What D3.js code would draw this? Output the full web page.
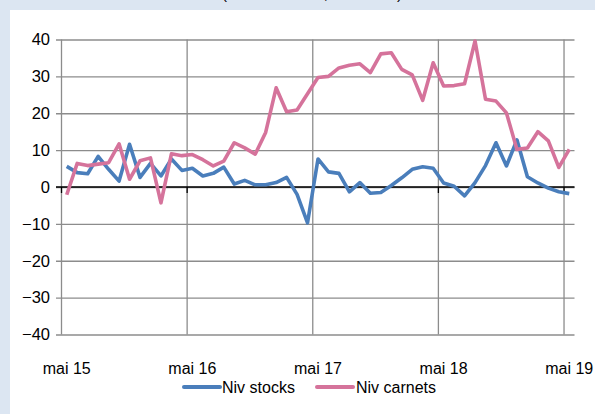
<!DOCTYPE html>
<html>
<head>
<meta charset="utf-8">
<script src="https://cdn.jsdelivr.net/npm/d3@7"></script>
<style>
  body { margin: 0; background: #dce6f2; }
  svg { display: block; }
  text { font-family: "Liberation Sans", Arial, sans-serif; fill: #000; }
</style>
</head>
<body>
<div id="chart"></div>
<script>
// monthly balances, mai 2015 -> mai 2019 (49 months)
var nivStocks = [5.6, 3.9, 3.6, 8.3, 4.8, 1.6, 11.6, 2.6, 6.4, 3.0, 7.6, 4.5,
  5.1, 3.0, 3.7, 5.4, 0.8, 1.8, 0.6, 0.6, 1.2, 2.6, -2.0, -9.7,
  7.6, 4.1, 3.7, -1.3, 1.2, -1.7, -1.5, 0.4, 2.5, 4.8, 5.5, 5.1,
  1.1, 0.2, -2.4, 1.2, 5.8, 12.0, 5.7, 12.8, 2.8, 1.1, -0.3, -1.3, -1.8];
var nivCarnets = [-2.1, 6.4, 5.8, 6.2, 6.6, 11.7, 2.1, 7.1, 7.9, -4.3, 9.0, 8.5,
  8.8, 7.4, 5.7, 7.0, 12.0, 10.6, 8.9, 14.8, 26.9, 20.4, 20.9, 25.3,
  29.7, 30.0, 32.3, 33.0, 33.4, 31.0, 36.1, 36.4, 31.9, 30.4, 23.5, 33.7,
  27.4, 27.5, 28.0, 39.6, 23.8, 23.3, 20.1, 10.2, 10.6, 15.0, 12.5, 5.3, 10.2];
var tickIdx = [0, 12, 24, 36, 48];
var tickLabels = ["mai 15", "mai 16", "mai 17", "mai 18", "mai 19"];
var yTicks = [-40, -30, -20, -10, 0, 10, 20, 30, 40];
var seriesNames = ["Niv stocks", "Niv carnets"];
var colors = ["#4a7ebb", "#d5739b"];

var W = 595, H = 414;
var margin = {top: 39.5, left: 61.5, right: 20.5, bottom: 79.5};
var width = W - margin.left - margin.right,
    height = H - margin.top - margin.bottom;

var svg = d3.select("#chart").append("svg")
    .attr("width", W).attr("height", H);

// outer panel
svg.append("rect").attr("width", W).attr("height", H).attr("fill", "#dce6f2");
svg.append("rect").attr("x", 10).attr("y", 10).attr("width", W - 10).attr("height", H - 10).attr("fill", "#fff");

// title, only its lowest part shows above the panel (as in the source)
svg.append("text").attr("x", 312).attr("y", -1).attr("text-anchor", "middle")
    .style("font-size", "15px").text("(solde mensuel, en niveau)");

var g = svg.append("g").attr("transform", "translate(" + margin.left + "," + margin.top + ")");

var x = d3.scaleBand().domain(d3.range(nivStocks.length)).range([0, width]).padding(0);
var y = d3.scaleLinear().domain([-40, 40]).range([height, 0]);
var xc = function(i) { return x(i) + x.bandwidth() / 2; };

// horizontal gridlines + y labels
g.append("g")
  .call(d3.axisLeft(y).tickValues(yTicks).tickSize(-width - 5.5).tickPadding(10))
  .attr("transform", "translate(" + (-5.5) + ",0)")
  .call(function(a) {
    a.select(".domain").remove();
    a.selectAll(".tick line").attr("x1", 0).attr("x2", width + 5.5)
      .attr("stroke", "#8c8c8c").attr("stroke-width", 1.3);
    a.selectAll(".tick text").attr("x", -6).style("font-size", "16.5px");
  });

// vertical gridlines at the start of each year
g.append("g").selectAll("line").data(tickIdx).enter().append("line")
  .attr("x1", function(d) { return x(d); }).attr("x2", function(d) { return x(d); })
  .attr("y1", 0).attr("y2", height)
  .attr("stroke", "#8c8c8c").attr("stroke-width", 1.3);

// zero line with ticks
g.append("line").attr("x1", -5.5).attr("x2", width)
  .attr("y1", y(0)).attr("y2", y(0)).attr("stroke", "#000").attr("stroke-width", 1.5);
g.append("g").selectAll("line").data(tickIdx).enter().append("line")
  .attr("x1", function(d) { return x(d); }).attr("x2", function(d) { return x(d); })
  .attr("y1", y(0)).attr("y2", y(0) + 6).attr("stroke", "#000").attr("stroke-width", 1.3);

// x labels
g.append("g").selectAll("text").data(tickIdx).enter().append("text")
  .attr("x", function(d) { return xc(d); })
  .attr("y", height + 39.5)
  .attr("text-anchor", "middle")
  .style("font-size", "16px")
  .text(function(d, i) { return tickLabels[i]; });

// lines
var line = d3.line().x(function(d, i) { return xc(i); }).y(function(d) { return y(d); });
[nivStocks, nivCarnets].forEach(function(s, k) {
  g.append("path").datum(s).attr("d", line)
    .attr("fill", "none").attr("stroke", colors[k])
    .attr("stroke-width", 3.6).attr("stroke-linejoin", "round");
});

// legend
var leg = [{x: 184, t: 222}, {x: 317, t: 356}];
leg.forEach(function(p, k) {
  svg.append("line").attr("x1", p.x).attr("x2", p.x + 36).attr("y1", 387).attr("y2", 387)
    .attr("stroke", colors[k]).attr("stroke-width", 4).attr("stroke-linecap", "round");
  svg.append("text").attr("x", p.t).attr("y", 393).style("font-size", "16px").text(seriesNames[k]);
});
</script>
</body>
</html>
